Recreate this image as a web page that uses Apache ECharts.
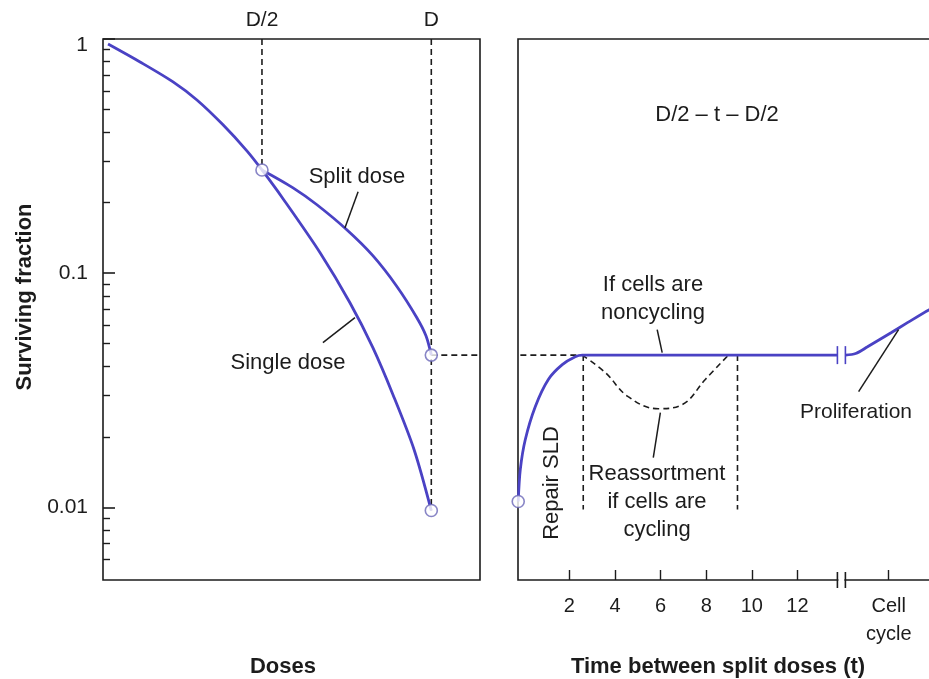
<!DOCTYPE html>
<html>
<head>
<meta charset="utf-8">
<title>Split dose survival</title>
<script src="https://cdn.jsdelivr.net/npm/echarts@6/dist/echarts.min.js"></script>
<style>
html, body { margin: 0; padding: 0; background: #fff; }
#main { width: 929px; height: 679px; }
</style>
</head>
<body>
<div id="main"></div>
<script>
// left panel: dose (arbitrary units) vs surviving fraction
var doseMarks = [5.06, 10.45];
var doseMarkLabels = ['D/2', 'D'];
var singleDose = [[0.16, 0.952], [1.18, 0.798], [2.23, 0.656], [2.99, 0.549], [3.82, 0.43], [4.58, 0.333],
  [5.06, 0.276], [5.73, 0.208], [6.91, 0.1223], [7.86, 0.0748], [8.59, 0.0481], [9.23, 0.0303],
  [9.9, 0.01768], [10.45, 0.0097]];
var splitDose = [[5.06, 0.276], [6.05, 0.2315], [6.81, 0.196], [7.76, 0.1533], [8.59, 0.1188],
  [9.36, 0.0876], [9.99, 0.0646], [10.28, 0.0541], [10.45, 0.0447]];
var fracMajor = [0.01, 0.1, 1];
var fracMinor = [0.006, 0.007, 0.008, 0.009, 0.02, 0.03, 0.04, 0.05, 0.06, 0.07, 0.08, 0.09,
  0.2, 0.3, 0.4, 0.5, 0.6, 0.7, 0.8, 0.9];

// right panel: time between split doses (h)
var timeTicks = [2, 4, 6, 8, 10, 12];
var cellCycleAt = 16;
var plateau = 0.0447;
var repairCurve = [[-0.24, 0.0106], [-0.15, 0.0145], [0.07, 0.0195], [0.51, 0.027], [1.08, 0.0352],
  [1.69, 0.0407], [2.26, 0.044], [2.57, 0.0447], [13.75, 0.0447]];
var prolifCurve = [[14.1, 0.0447], [14.55, 0.0454], [15.07, 0.0485], [16.1, 0.0557], [16.82, 0.0615],
  [17.78, 0.0699], [19, 0.08]];
var reassortCurve = [[2.57, 0.0447], [3.57, 0.0377], [4.58, 0.0297], [5.9, 0.0264], [6.95, 0.0275],
  [7.96, 0.0352], [8.97, 0.0447]];
var reassortWindow = [2.61, 9.37];
var windowFloor = 0.0098;
var breakTimes = [13.75, 14.1];

// leader lines from labels to curves
var leaderSplit = [[8.12, 0.223], [7.70, 0.156]];
var leaderSingle = [[8.02, 0.0646], [7.0, 0.0505]];
var leaderNoncyc = [[5.85, 0.0574], [6.07, 0.0458]];
var leaderReass = [[5.99, 0.0254], [5.68, 0.0163]];
var leaderProlif = [[16.43, 0.0574], [14.68, 0.0312]];

var FRAC_MIN = 0.0049, FRAC_MAX = 1;
var BLUE = '#4a42c4';
var INK = '#1c1c1c';
var FONT = '"Liberation Sans", Arial, Helvetica, sans-serif';

var dom = document.getElementById('main');
var myChart = echarts.init(dom, null, { renderer: 'canvas' });

function curve(data, xi, yi) {
  return {
    type: 'line', xAxisIndex: xi, yAxisIndex: yi, data: data,
    smooth: 0.3, showSymbol: false, silent: true,
    lineStyle: { color: BLUE, width: 2.8 }, z: 3
  };
}
function dashed(data, xi, yi, smooth, clip) {
  return {
    type: 'line', xAxisIndex: xi, yAxisIndex: yi, data: data,
    smooth: smooth || false, showSymbol: false, silent: true, clip: clip !== false,
    lineStyle: { color: INK, width: 1.6, type: [6, 4] }, z: 2
  };
}
function leader(data, xi, yi) {
  return {
    type: 'line', xAxisIndex: xi, yAxisIndex: yi, data: data,
    showSymbol: false, silent: true,
    lineStyle: { color: INK, width: 1.5 }, z: 4
  };
}
function circles(data, xi, yi) {
  return {
    type: 'scatter', xAxisIndex: xi, yAxisIndex: yi, data: data,
    symbol: 'circle', symbolSize: 12, silent: true, clip: false,
    itemStyle: { color: '#fff', borderColor: '#6a66b8', borderWidth: 1.6 }, z: 6
  };
}
function label(text, x, y, opt) {
  opt = opt || {};
  return {
    type: 'text', x: x, y: y, rotation: opt.rotation || 0, z: 10,
    style: {
      text: text, fill: INK, font: (opt.bold ? 'bold ' : '') + (opt.size || 22) + 'px ' + FONT,
      align: 'center', verticalAlign: 'middle', lineHeight: 28
    }
  };
}

var logY = function (grid) {
  return {
    gridIndex: grid, type: 'log', logBase: 10, min: FRAC_MIN, max: FRAC_MAX, position: 'left',
    axisLine: { show: false }, axisTick: { show: false }, axisLabel: { show: false },
    splitLine: { show: false }, minorTick: { show: false }
  };
};

var yMajor = logY(0);
yMajor.axisTick = { show: true, inside: true, length: 12, customValues: fracMajor,
  lineStyle: { color: INK, width: 1.6 } };
yMajor.axisLabel = { show: true, customValues: fracMajor, margin: 15, fontSize: 21, fontFamily: FONT, color: INK,
  formatter: function (v) {
    var s = String(+v.toPrecision(3));
    return v >= 1 ? '{top|' + s + '}' : s;
  },
  rich: { top: { fontSize: 21, fontFamily: FONT, color: INK, padding: [12, 0, 0, 0] } } };
var yMinor = logY(0);
yMinor.axisTick = { show: true, inside: true, length: 7, customValues: fracMinor,
  lineStyle: { color: INK, width: 1.4 } };

var option = {
  backgroundColor: '#fff',
  animation: false,
  grid: [
    { left: 103, top: 39, width: 377, height: 541, show: true, borderColor: INK, borderWidth: 1.6,
      outerBoundsMode: 'none' },
    { left: 518, top: 39, width: 462, height: 541, show: true, borderColor: INK, borderWidth: 1.6,
      outerBoundsMode: 'none' }
  ],
  xAxis: [
    { gridIndex: 0, type: 'value', min: 0, max: 12, position: 'bottom',
      axisLine: { show: false }, axisTick: { show: false }, axisLabel: { show: false }, splitLine: { show: false } },
    { gridIndex: 0, type: 'value', min: 0, max: 12, position: 'top',
      axisLine: { show: false }, axisTick: { show: false }, splitLine: { show: false },
      axisLabel: { customValues: doseMarks, margin: 8, fontSize: 21, fontFamily: FONT, color: INK,
        formatter: function (v) { return doseMarkLabels[doseMarks.indexOf(v)]; } } },
    { gridIndex: 1, type: 'value', min: -0.25, max: 20, position: 'bottom',
      axisLine: { show: false }, splitLine: { show: false },
      axisTick: { inside: true, length: 10, customValues: timeTicks.concat([cellCycleAt]),
        lineStyle: { color: INK, width: 1.4 } },
      axisLabel: { customValues: timeTicks.concat([cellCycleAt]), margin: 12, fontSize: 20, fontFamily: FONT,
        color: INK, lineHeight: 28,
        formatter: function (v) { return v === cellCycleAt ? 'Cell\ncycle' : String(v); } } }
  ],
  yAxis: [yMajor, yMinor, logY(1)],
  graphic: [
    label('Split dose', 357, 177),
    label('Single dose', 288, 363),
    label('If cells are\nnoncycling', 653, 299),
    label('Reassortment\nif cells are\ncycling', 657, 502),
    label('Repair SLD', 552, 483, { rotation: Math.PI / 2 }),
    label('Proliferation', 856, 412, { size: 21 }),
    label('D/2 \u2013 t \u2013 D/2', 717, 115),
    label('Surviving fraction', 25, 297, { rotation: Math.PI / 2, bold: true }),
    label('Doses', 283, 667, { bold: true }),
    label('Time between split doses (t)', 718, 667, { bold: true })
  ],
  series: [
    // left panel
    dashed([[doseMarks[0], FRAC_MAX], [doseMarks[0], splitDose[0][1]]], 0, 0),
    dashed([[doseMarks[1], FRAC_MAX], [doseMarks[1], singleDose[singleDose.length - 1][1]]], 0, 0),
    dashed([[doseMarks[1], plateau], [12, plateau]], 0, 0),
    curve(singleDose, 0, 0),
    curve(splitDose, 0, 0),
    leader(leaderSplit, 0, 0),
    leader(leaderSingle, 0, 0),
    circles([splitDose[0], splitDose[splitDose.length - 1], singleDose[singleDose.length - 1]], 0, 0),
    // right panel
    dashed([[-1.9, plateau], [2.57, plateau]], 2, 2, false, false),
    dashed([[reassortWindow[0], plateau], [reassortWindow[0], windowFloor]], 2, 2),
    dashed([[reassortWindow[1], plateau], [reassortWindow[1], windowFloor]], 2, 2),
    dashed(reassortCurve, 2, 2, 0.4),
    curve(repairCurve, 2, 2),
    curve(prolifCurve, 2, 2),
    leader(leaderNoncyc, 2, 2),
    leader(leaderReass, 2, 2),
    leader(leaderProlif, 2, 2),
    circles([repairCurve[0]], 2, 2),
    {
      type: 'custom', xAxisIndex: 2, yAxisIndex: 2, clip: false, silent: true, z: 8,
      data: breakTimes.map(function (t) { return [t, plateau]; }),
      renderItem: function (params, api) {
        var t = api.value(0);
        var pc = api.coord([t, api.value(1)]);
        var bc = api.coord([t, FRAC_MIN]);
        var kids = [
          { type: 'line', shape: { x1: pc[0], y1: pc[1] - 9, x2: pc[0], y2: pc[1] + 9 },
            style: { stroke: BLUE, lineWidth: 1.6 } },
          { type: 'line', shape: { x1: bc[0], y1: bc[1] - 8, x2: bc[0], y2: bc[1] + 8 },
            style: { stroke: INK, lineWidth: 1.6 } }
        ];
        if (params.dataIndex === 0) {
          var nc = api.coord([breakTimes[1], FRAC_MIN]);
          kids.unshift({ type: 'rect', shape: { x: bc[0] + 1, y: bc[1] - 2, width: nc[0] - bc[0] - 2, height: 4 },
            style: { fill: '#fff' } });
        }
        return { type: 'group', children: kids };
      }
    }
  ]
};

if (option && typeof option === 'object') {
  myChart.setOption(option, true);
}
</script>
</body>
</html>
